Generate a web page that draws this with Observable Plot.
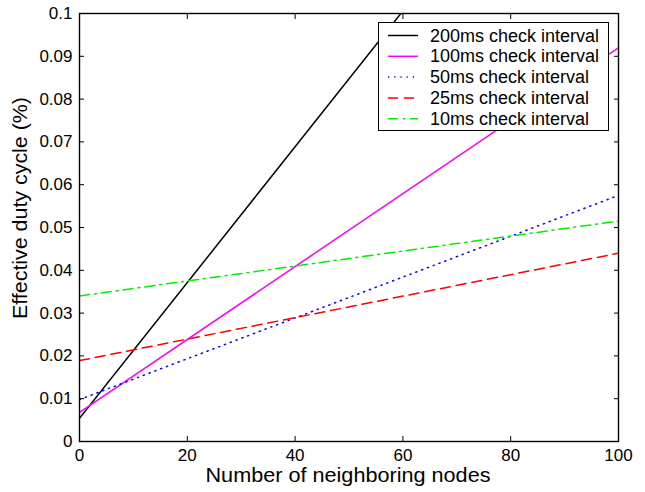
<!DOCTYPE html>
<html>
<head>
<meta charset="utf-8">
<script src="https://cdn.jsdelivr.net/npm/d3@7"></script>
<script src="https://cdn.jsdelivr.net/npm/@observablehq/plot@0.6"></script>
<style>
body { margin: 0; background: #fff; }
#wrap { position: relative; width: 645px; height: 492px; font-family: "Liberation Sans", Arial, sans-serif; }
#legend { position: absolute; left: 378px; top: 22px; width: 231px; height: 109px; background: #fff; border: 1.3px solid #000; box-sizing: border-box; }
</style>
</head>
<body>
<div id="wrap"></div>
<script>
const seriesNames = ["200ms check interval", "100ms check interval", "50ms check interval", "25ms check interval", "10ms check interval"];
const seriesX = [[0, 60], [0, 100], [0, 100], [0, 100], [0, 100]];
const seriesY = [[0.0054, 0.1006], [0.0068, 0.092], [0.0098, 0.0575], [0.0189, 0.044], [0.034, 0.0515]];
const colors = ["#000000", "#ff00ff", "#0000ff", "#ff0000", "#00ee00"];
const dashes = [null, null, "1.2,5", "10,6", "10,5,2,5"];
const xTicks = [0, 20, 40, 60, 80, 100];
const yTicks = [0, 0.01, 0.02, 0.03, 0.04, 0.05, 0.06, 0.07, 0.08, 0.09, 0.1];

const rows = [];
seriesNames.forEach((name, i) => seriesX[i].forEach((x, j) => rows.push({series: name, x, y: seriesY[i][j]})));

const fmt = d => String(+d.toFixed(2));

const lineMarks = seriesNames.map((name, i) =>
  Plot.line(rows.filter(r => r.series === name), {x: "x", y: "y", stroke: colors[i], strokeWidth: 1.5, strokeDasharray: dashes[i], clip: true})
);

const chart = Plot.plot({
  width: 645,
  height: 492,
  marginLeft: 79,
  marginRight: 27,
  marginTop: 13,
  marginBottom: 51,
  style: {fontFamily: "Liberation Sans, Arial, sans-serif", fontSize: "17px", color: "#000", background: "#fff"},
  x: {domain: [0, 100]},
  y: {domain: [0, 0.1]},
  marks: [
    ...lineMarks,
    Plot.axisX({anchor: "bottom", ticks: xTicks, tickSize: -5, tickPadding: 12, tickFormat: fmt, label: null, fontSize: 17}),
    Plot.axisX({anchor: "top", ticks: xTicks, tickSize: -5, tickFormat: () => "", label: null}),
    Plot.axisY({anchor: "left", ticks: yTicks, tickSize: -5, tickPadding: 12, tickFormat: fmt, label: null, fontSize: 17}),
    Plot.axisY({anchor: "right", ticks: yTicks, tickSize: -5, tickFormat: () => "", label: null}),
    Plot.frame({stroke: "#000", strokeWidth: 1.4})
  ]
});

const wrap = document.getElementById("wrap");
wrap.appendChild(chart);

// axis titles
const svg = d3.select(chart);
svg.append("text").attr("x", 348).attr("y", 482).attr("text-anchor", "middle")
  .attr("textLength", 285).attr("lengthAdjust", "spacingAndGlyphs")
  .style("font-size", "20px").style("font-family", "Liberation Sans, Arial, sans-serif").attr("fill", "#000")
  .text("Number of neighboring nodes");
svg.append("text").attr("transform", "translate(27,208) rotate(-90)").attr("text-anchor", "middle")
  .attr("textLength", 222).attr("lengthAdjust", "spacingAndGlyphs")
  .style("font-size", "20px").style("font-family", "Liberation Sans, Arial, sans-serif").attr("fill", "#000")
  .text("Effective duty cycle (%)");

// legend
const lg = document.createElement("div");
lg.id = "legend";
wrap.appendChild(lg);
const lsvg = d3.select(lg).append("svg").attr("width", 229).attr("height", 107).style("display", "block");
seriesNames.forEach((name, i) => {
  const yy = 12.5 + i * 20.8;
  lsvg.append("line").attr("x1", 9).attr("x2", 39).attr("y1", yy).attr("y2", yy)
    .attr("stroke", colors[i]).attr("stroke-width", 1.5).attr("stroke-dasharray", dashes[i]);
  lsvg.append("text").attr("x", 51).attr("y", yy + 6).style("font-size", "18px")
    .style("font-family", "Liberation Sans, Arial, sans-serif").attr("fill", "#000").text(name);
});
</script>
</body>
</html>
